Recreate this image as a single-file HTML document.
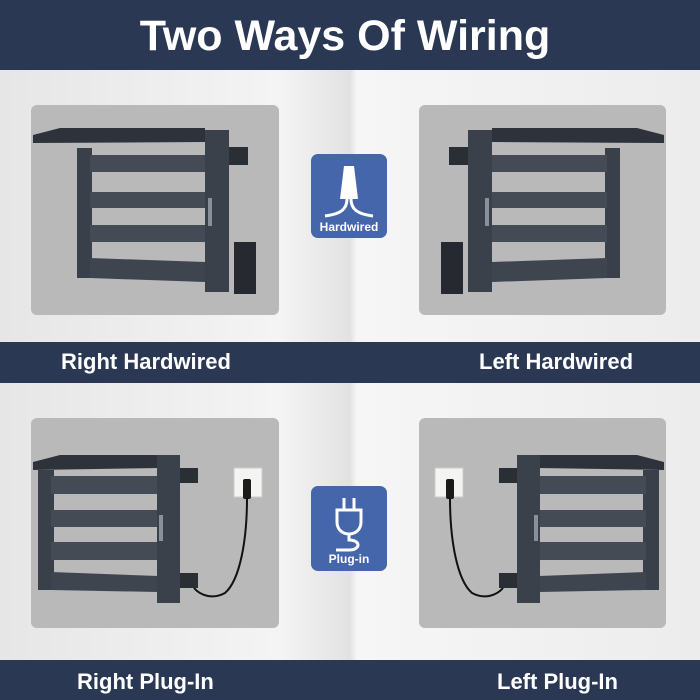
<!DOCTYPE html>
<html><head><meta charset="utf-8"><style>
*{margin:0;padding:0;box-sizing:border-box}
body{width:700px;height:700px;overflow:hidden;background:#ececec;font-family:"Liberation Sans",sans-serif;position:relative}
.bg{position:absolute;left:0;top:0;width:700px;height:700px;background:linear-gradient(90deg,#e6e6e6 0%,#f4f4f4 40%,#e2e2e2 50%,#f6f6f6 51%,#ececec 100%)}
.band{position:absolute;left:0;width:700px;background:#2b3854;color:#fff;font-weight:bold}
.t{position:absolute;white-space:nowrap;font-weight:bold;color:#fff}
.panel{position:absolute;background:#b9b9b9;border-radius:6px}
.icon{position:absolute;background:#4666ab;border-radius:7px;left:311px;width:76px}
</style></head><body>
<div class="bg"></div>
<div class="band" style="top:0;height:70px"></div>
<div class="t" style="left:0;width:690px;text-align:center;top:12px;font-size:43px">Two Ways Of Wiring</div>
<div class="band" style="top:342px;height:41px"></div>
<div class="t" style="left:61px;top:349px;font-size:22px">Right Hardwired</div>
<div class="t" style="left:479px;top:349px;font-size:22px">Left Hardwired</div>
<div class="band" style="top:660px;height:40px"></div>
<div class="t" style="left:77px;top:669px;font-size:22px">Right Plug-In</div>
<div class="t" style="left:497px;top:669px;font-size:22px">Left Plug-In</div>
<div class="panel" style="left:31px;top:105px;width:248px;height:210px"></div>
<div class="panel" style="left:419px;top:105px;width:247px;height:210px"></div>
<div class="panel" style="left:31px;top:418px;width:248px;height:210px"></div>
<div class="panel" style="left:419px;top:418px;width:247px;height:210px"></div>
<svg width="700" height="700" style="position:absolute;left:0;top:0">
<defs>
<g id="hw">
<polygon points="33,135 60,128 205,128 205,142 33,143" fill="#2e333b"/>
<rect x="77" y="148" width="15" height="130" fill="#3a4049"/>
<rect x="90" y="155" width="115" height="17" fill="#454b54"/>
<rect x="90" y="192" width="115" height="16" fill="#454b54"/>
<rect x="90" y="225" width="115" height="17" fill="#454b54"/>
<polygon points="90,258 205,262 205,282 90,278" fill="#3f454e"/>
<rect x="205" y="130" width="24" height="162" fill="#3b414a"/>
<rect x="208" y="198" width="4" height="28" fill="#8a9099"/>
<rect x="229" y="147" width="19" height="18" fill="#2a2f36"/>
<rect x="234" y="242" width="22" height="52" fill="#262a30"/>
</g>
<g id="pl">
<polygon points="33,462 60,455 160,455 160,468 33,470" fill="#2e333b"/>
<rect x="38" y="470" width="16" height="120" fill="#3a4049"/>
<rect x="51" y="476" width="107" height="18" fill="#454b54"/>
<rect x="51" y="510" width="107" height="17" fill="#454b54"/>
<rect x="51" y="542" width="107" height="18" fill="#454b54"/>
<polygon points="51,572 158,576 158,592 51,590" fill="#3f454e"/>
<rect x="157" y="455" width="23" height="148" fill="#3b414a"/>
<rect x="159" y="515" width="4" height="26" fill="#8a9099"/>
<rect x="180" y="468" width="18" height="15" fill="#2a2f36"/>
<rect x="180" y="573" width="18" height="15" fill="#2a2f36"/>
<rect x="234" y="468" width="28" height="29" fill="#f4f4f2" stroke="#ccc"/>
<rect x="243" y="479" width="8" height="20" rx="2" fill="#1b1b1b"/>
<path d="M247,498 C247,540 240,580 225,593 C212,600 200,595 194,588" fill="none" stroke="#111" stroke-width="2"/>
</g>
</defs>
<use href="#hw"/>
<use href="#hw" transform="translate(697,0) scale(-1,1)"/>
<use href="#pl"/>
<use href="#pl" transform="translate(697,0) scale(-1,1)"/>
</svg>
<div class="icon" style="top:154px;height:84px">
<svg width="76" height="64" style="position:absolute;left:0;top:0">
<path d="M33,12 L43,12 L47,45 L29,45 Z" fill="#fff"/>
<path d="M36,45 C36,55 30,60 14,62 M40,45 C40,55 46,60 62,62" fill="none" stroke="#fff" stroke-width="3"/>
</svg>
<div class="t" style="left:0;width:76px;text-align:center;top:66px;font-size:12px">Hardwired</div>
</div>
<div class="icon" style="top:486px;height:85px">
<svg width="76" height="66" style="position:absolute;left:0;top:0">
<path d="M33,12 V24 M43,12 V24" stroke="#fff" stroke-width="3"/>
<path d="M26,24 H50 V36 C50,44 44,48 38,48 C32,48 26,44 26,36 Z" fill="none" stroke="#fff" stroke-width="3"/>
<path d="M38,48 V54 C50,54 50,64 38,64 H25" fill="none" stroke="#fff" stroke-width="3"/>
</svg>
<div class="t" style="left:0;width:76px;text-align:center;top:66px;font-size:12px">Plug-in</div>
</div>
</body></html>
